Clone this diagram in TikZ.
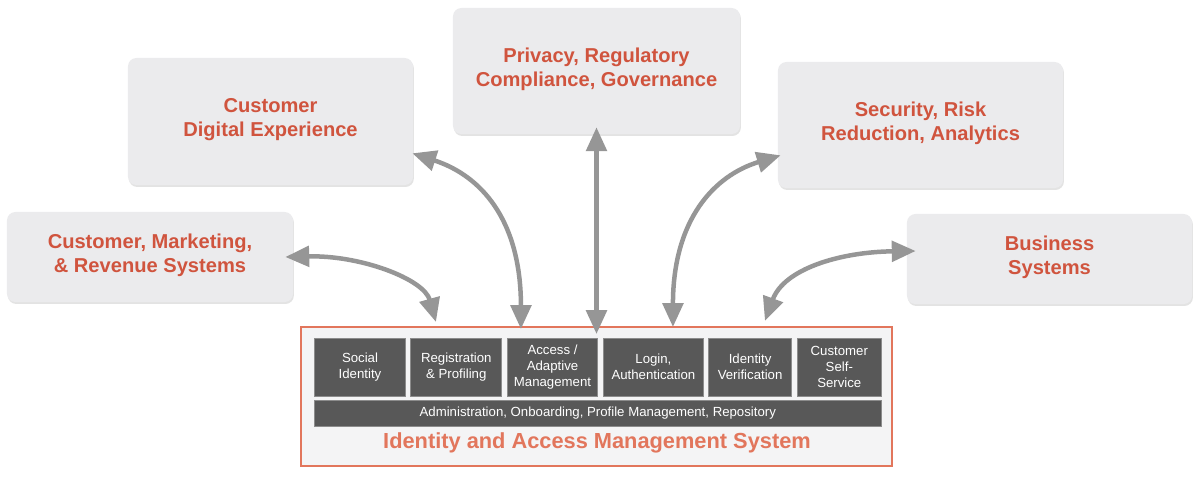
\documentclass[tikz,border=0pt]{standalone}
\usepackage{fontspec}
\setmainfont{Liberation Sans}
\usetikzlibrary{arrows.meta,positioning,shadows,calc}
\definecolor{GoalGrey}{RGB}{235,235,237}
\definecolor{GoalRed}{RGB}{208,84,62}
\definecolor{FrameOrange}{RGB}{226,118,92}
\definecolor{FrameFill}{RGB}{244,244,245}
\definecolor{ModuleGrey}{RGB}{88,88,88}
\definecolor{ModuleEdge}{RGB}{140,140,140}
\definecolor{LinkGrey}{RGB}{150,150,150}

\tikzset{
  goal/.style={fill=GoalGrey, rounded corners=6pt, inner sep=0pt,
    drop shadow={opacity=0.22, shadow xshift=0.6pt, shadow yshift=-1.4pt},
    align=center, text=GoalRed, text depth=6pt,
    font=\fontsize{14.3}{17}\selectfont\bfseries},
  module/.style={fill=ModuleGrey, draw=ModuleEdge, line width=0.6pt,
    inner sep=0pt, minimum height=1.45cm, align=center, text=white,
    font=\fontsize{9.4}{11.4}\selectfont},
  link/.style={draw=LinkGrey, line width=3.2pt,
    {Triangle[length=17pt,width=14.5pt]}-{Triangle[length=17pt,width=14.5pt]}}
}

\begin{document}
\begin{tikzpicture}[x=0.025cm, y=-0.025cm]
    \useasboundingbox (0,0) rectangle (1200,476);

    % Goal boxes around the system
    \node[goal, minimum width=7.125cm, minimum height=3.175cm] (cde) at (270.5,121.5) {Customer\\Digital Experience};
    \node[goal, minimum width=7.175cm, minimum height=3.15cm] (priv) at (596.5,71) {Privacy, Regulatory\\Compliance, Governance};
    \node[goal, minimum width=7.125cm, minimum height=3.15cm] (sec) at (920.5,125) {Security, Risk\\Reduction, Analytics};
    \node[goal, minimum width=7.15cm, minimum height=2.25cm] (cmr) at (150,257) {Customer, Marketing,\\\& Revenue Systems};
    \node[goal, minimum width=7.125cm, minimum height=2.25cm] (bus) at (1049.5,259) {Business\\Systems};

    % Identity and access management frame
    \node[draw=FrameOrange, line width=1.4pt, fill=FrameFill, inner sep=0pt,
      minimum width=14.775cm, minimum height=3.475cm] (iam) at (596.5,396.5) {};

    % Modules
    \node[module, minimum width=2.275cm] (social) at (360,367) {Social\\Identity};
    \node[module, minimum width=2.275cm] (reg) at (456.3,367) {Registration\\\& Profiling};
    \node[module, minimum width=2.25cm] (access) at (552.5,367) {Access /\\Adaptive\\Management};
    \node[module, minimum width=2.5cm] (login) at (653.4,367) {Login,\\Authentication};
    \node[module, minimum width=2.085cm] (idv) at (750.1,367) {Identity\\Verification};
    \node[module, minimum width=2.1cm] (self) at (839.3,367) {Customer\\Self-\\Service};
    \node[module, minimum width=14.175cm, minimum height=0.65cm] (admin) at (597.8,413) {Administration, Onboarding, Profile Management, Repository};

    \node[text=FrameOrange, font=\fontsize{15.5}{18}\selectfont\bfseries] (title) at (597,443) {Identity and Access Management System};

    % Links
    \draw[link] ($(cmr.east)+(-8,0)$) .. controls +(75,-2) and +(-12,-43) .. ($(iam.north west)+(136,-4)$);
    \draw[link] ($(cde.south east)+(-1,-32)$) .. controls +(68,22) and +(0,-110) .. ($(iam.north west)+(221,3)$);
    \draw[link] ($(priv.south)+(0,-7)$) -- ($(iam.north)+(0,8)$);
    \draw[link] ($(sec.south west)+(3,-33)$) .. controls +(-66,20) and +(0,-108) .. ($(iam.north west)+(373,1)$);
    \draw[link] ($(bus.west)+(9,-8)$) .. controls +(-76,1) and +(19,-52) .. ($(iam.north west)+(465,-5)$);
\end{tikzpicture}
\end{document}
